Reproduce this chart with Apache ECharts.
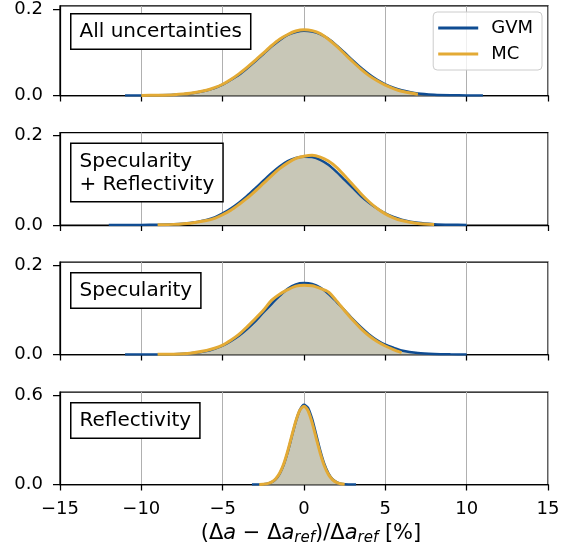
<!DOCTYPE html>
<html>
<head>
<meta charset="utf-8">
<script src="https://cdn.jsdelivr.net/npm/echarts@6/dist/echarts.min.js"></script>
<style>
  html, body { margin: 0; padding: 0; background: #fff; }
  #chart { width: 575px; height: 551px; }
</style>
</head>
<body>
<div id="chart"></div>
<script>
// shared x grid for the three wide panels
var xWide = [-12, -11, -10, -9, -8, -7, -6, -5.5, -5, -4.5, -4, -3.5, -3, -2.5, -2, -1.5, -1, -0.5, 0,
    0.5, 1, 1.5, 2, 2.5, 3, 3.5, 4, 4.5, 5, 5.5, 6, 7, 8, 9, 10, 11];

// All uncertainties
var allGvm = [null, 0.0001, 0.0002, 0.0005, 0.0016, 0.0046, 0.0116, 0.017, 0.025, 0.036, 0.048, 0.063, 0.079, 0.096, 0.113, 0.128, 0.140, 0.147, 0.150,
    0.148, 0.142, 0.131, 0.116, 0.099, 0.081, 0.064, 0.049, 0.036, 0.026, 0.018, 0.012, 0.0045, 0.0016, 0.0005, 0.0002, 0];
var allMc = [null, null, 0.0002, 0.0006, 0.0018, 0.005, 0.012, 0.018, 0.026, 0.037, 0.050, 0.065, 0.081, 0.098, 0.115, 0.130, 0.141, 0.149, 0.152,
    0.150, 0.143, 0.130, 0.114, 0.096, 0.078, 0.061, 0.046, 0.034, 0.024, 0.016, 0.010, 0.003, null, null, null, null];

// Specularity + Reflectivity
var bothGvm = [0, 0.0001, 0.0002, 0.0005, 0.0015, 0.0045, 0.0115, 0.017, 0.026, 0.037, 0.050, 0.065, 0.082, 0.099, 0.116, 0.131, 0.143, 0.150, 0.153,
    0.152, 0.146, 0.135, 0.119, 0.101, 0.083, 0.065, 0.050, 0.037, 0.026, 0.018, 0.012, 0.0048, 0.0017, 0.0005, 0.0002, null];
var bothMc = [null, null, null, 0.0005, 0.0014, 0.004, 0.010, 0.015, 0.023, 0.033, 0.046, 0.060, 0.076, 0.093, 0.110, 0.126, 0.139, 0.149, 0.154,
    0.156, 0.152, 0.143, 0.129, 0.110, 0.090, 0.070, 0.052, 0.037, 0.025, 0.016, 0.010, 0.0035, 0.001, null, null, null];

// Specularity
var specGvm = [null, 0.0001, 0.0001, 0.0002, 0.0008, 0.0027, 0.008, 0.013, 0.020, 0.030, 0.042, 0.057, 0.074, 0.094, 0.113, 0.131, 0.147, 0.157, 0.160,
    0.158, 0.150, 0.136, 0.118, 0.099, 0.079, 0.061, 0.045, 0.032, 0.022, 0.015, 0.009, 0.0032, 0.001, 0.0003, 0.0001, null];
var specMc = [null, null, null, 0.0003, 0.0008, 0.003, 0.009, 0.014, 0.021, 0.032, 0.045, 0.062, 0.080, 0.099, 0.121, 0.135, 0.145, 0.153, 0.155,
    0.154, 0.148, 0.140, 0.120, 0.098, 0.077, 0.058, 0.042, 0.029, 0.019, 0.011, 0.004, null, null, null, null, null];

// Reflectivity (narrow)
var xRefl = [-3.2, -3, -2.75, -2.5, -2.25, -2, -1.75, -1.5, -1.25, -1, -0.75, -0.5, -0.25, 0,
    0.25, 0.5, 0.75, 1, 1.25, 1.5, 1.75, 2, 2.25, 2.5, 2.75, 3, 3.2];
var reflGvm = [0, 0.0002, 0.0006, 0.002, 0.0059, 0.015, 0.035, 0.072, 0.132, 0.218, 0.322, 0.424, 0.501, 0.535,
    0.515, 0.44, 0.335, 0.228, 0.138, 0.075, 0.036, 0.016, 0.006, 0.002, 0.0007, 0.0002, 0];
var reflMc = [null, null, 0.0006, 0.002, 0.006, 0.016, 0.037, 0.075, 0.137, 0.225, 0.328, 0.427, 0.500, 0.525,
    0.495, 0.415, 0.312, 0.21, 0.126, 0.068, 0.033, 0.014, 0.005, 0.0015, null, null, null];

var panelNames = ['All uncertainties', 'Specularity\n+ Reflectivity', 'Specularity', 'Reflectivity'];
var panelX = [xWide, xWide, xWide, xRefl];
var panelGvm = [allGvm, bothGvm, specGvm, reflGvm];
var panelMc = [allMc, bothMc, specMc, reflMc];
var yTop = [0.2, 0.2, 0.2, 0.6];

var GVM_COLOR = '#0f4c92', MC_COLOR = '#e3aa35', FILL = '#c8c7b7';
var FONT = 'DejaVu Sans';
var grids = [], xAxes = [], yAxes = [], series = [], graphics = [];
var tops = [3, 132.5, 262, 392], panelH = 92.5;

function pairs(xs, ys) {
    return xs.map(function (x, i) { return [x, ys[i]]; })
        .filter(function (d) { return d[1] !== null; });
}

for (var i = 0; i < 4; i++) {
    grids.push({ left: 60, width: 488, top: tops[i], height: panelH, show: true, borderColor: '#000', borderWidth: 1.25 });
    xAxes.push({
        gridIndex: i, type: 'value', min: -15, max: 15, interval: 5, position: 'bottom',
        axisLine: { onZero: false, lineStyle: { color: '#000', width: 1.25 } },
        axisTick: { show: true, length: 6, inside: false, lineStyle: { color: '#000', width: 1.25 } },
        axisLabel: {
            show: i === 3, margin: 16, color: '#000', fontSize: 18, fontFamily: FONT,
            formatter: function (v) { return v < 0 ? '\u2212' + Math.abs(v) : String(v); }
        },
        splitLine: { show: true, lineStyle: { color: '#b0b0b0', width: 1 } }
    });
    yAxes.push({
        gridIndex: i, type: 'value', min: 0, max: yTop[i] * 1.035, position: 'left',
        axisLine: { show: true, onZero: false, lineStyle: { color: '#000', width: 1.25 } },
        axisTick: { show: true, length: 7, customValues: [0, yTop[i]], lineStyle: { color: '#000', width: 1.25 } },
        axisLabel: {
            customValues: [0, yTop[i]], margin: 17, color: '#000', fontSize: 18, fontFamily: FONT,
            formatter: function (v) { return v.toFixed(1); }
        },
        splitLine: { show: false }
    });
    series.push({
        name: 'GVM', type: 'line', xAxisIndex: i, yAxisIndex: i,
        data: pairs(panelX[i], panelGvm[i]), smooth: 0.25, showSymbol: false,
        lineStyle: { color: GVM_COLOR, width: 2.5 }, itemStyle: { color: GVM_COLOR },
        areaStyle: { color: FILL, opacity: 1 }, z: 2
    });
    series.push({
        name: 'MC', type: 'line', xAxisIndex: i, yAxisIndex: i,
        data: pairs(panelX[i], panelMc[i]), smooth: 0.25, showSymbol: false,
        lineStyle: { color: MC_COLOR, width: 3 }, itemStyle: { color: MC_COLOR }, z: 3
    });
    graphics.push({
        type: 'text', left: 70, top: tops[i] + 10, z: 10,
        style: {
            text: panelNames[i], font: '20px "DejaVu Sans"', lineHeight: 23, fill: '#000',
            backgroundColor: '#fff', borderColor: '#000', borderWidth: 1.5, padding: [6, 8, 5, 8]
        }
    });
}

// x axis title with italic a and subscript ref
graphics.push({
    type: 'text', x: 311, y: 521, z: 10,
    style: {
        text: '(\u0394{i|a} \u2212 \u0394{i|a}{s|ref})/\u0394{i|a}{s|ref} [%]',
        align: 'center', verticalAlign: 'top',
        fontSize: 21, fontFamily: FONT, lineHeight: 25, fill: '#000',
        rich: {
            i: { fontSize: 21, fontFamily: FONT, fontStyle: 'italic', lineHeight: 25 },
            s: { fontSize: 15, fontFamily: FONT, fontStyle: 'italic', lineHeight: 16, verticalAlign: 'bottom' }
        }
    }
});

var chart = echarts.init(document.getElementById('chart'));
chart.setOption({
    animation: false,
    backgroundColor: '#fff',
    grid: grids,
    xAxis: xAxes,
    yAxis: yAxes,
    legend: {
        data: ['GVM', 'MC'], orient: 'vertical', right: 33, top: 12,
        icon: 'rect', itemWidth: 40, itemHeight: 3, itemGap: 6,
        backgroundColor: 'rgba(255,255,255,0.8)', borderColor: '#cccccc', borderWidth: 1, borderRadius: 4,
        padding: [6, 9, 6, 5],
        textStyle: { fontSize: 18, fontFamily: FONT, color: '#000', lineHeight: 20, padding: [0, 0, 0, 8] }
    },
    series: series,
    graphic: graphics
});
</script>
</body>
</html>
